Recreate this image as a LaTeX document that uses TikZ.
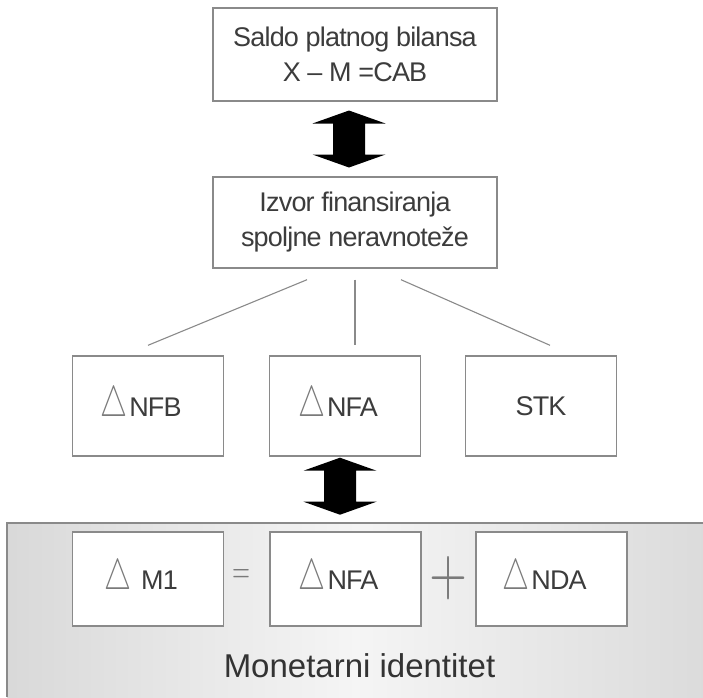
\documentclass[tikz,border=0pt]{standalone}
\usepackage{graphicx}
\usepackage{fontspec}
\setmainfont{Liberation Sans}[LetterSpace=-3]
\newfontfamily\bigfont{Liberation Sans}
\usepackage{tikz}
\usetikzlibrary{calc}
\definecolor{edge}{HTML}{8A8A8A}
\definecolor{ink}{HTML}{3C3C3C}
\definecolor{tri}{HTML}{7A7A7A}
\newcommand{\dlt}{\textcolor{tri}{\resizebox{27pt}{30pt}{$\triangle$}}\hspace{2pt}}
\newcommand{\blockarrow}[1]{\fill[black] (#1) ++(0,-28.5) -- ++(36.5,13) -- ++(-20.5,0) -- ++(0,31) -- ++(20.5,0) -- ++(-36.5,13) -- ++(-36.5,-13) -- ++(20.5,0) -- ++(0,-31) -- ++(-20.5,0) -- cycle;}
\begin{document}
\begin{tikzpicture}[x=1pt, y=-1pt,
  box/.style={draw=edge,line width=1.4pt,fill=white,text=ink,minimum width=151pt,align=center,font=\fontsize{27}{35}\selectfont},
  link/.style={edge,line width=1.1pt}]
          \useasboundingbox (0,0) rectangle (703,697);
          \shade[left color=black!15,right color=black!14,middle color=black!4] (7,523) rectangle (703,697);
          \draw[edge,line width=1.4pt] (7,697) -- (7,523) -- (703,523);
          \node[box,minimum width=284pt,minimum height=93pt] (S) at (355,54.5) {Saldo platnog bilansa\\X -- M =CAB};
          \node[box,minimum width=284pt,minimum height=91pt] (I) at (355,222.5) {Izvor finansiranja\\spoljne neravnoteže};
          \node[box,minimum height=100pt] (B) at (148,406) {\dlt NFB\hspace{14pt}};
          \node[box,minimum height=100pt] (A) at (345,406) {\dlt NFA\hspace{14pt}};
          \node[box,minimum height=100pt] (K) at (541,406) {STK};
          \node[box,minimum height=94pt] (M) at (148,579) {\dlt\hspace{8pt}M1\hspace{14pt}};
          \node[box,minimum height=94pt] (F) at (345.5,579) {\dlt NFA\hspace{14pt}};
          \node[box,minimum height=94pt] (D) at (551.5,579) {\dlt NDA\hspace{14pt}};
          \node[text=tri,inner sep=0pt] (eq) at (241,576) {\resizebox{18pt}{13pt}{$=$}};
          \node[text=tri,inner sep=0pt] (pl) at (448,578) {\resizebox{38pt}{38pt}{$+$}};
          \node[text=black!80,font=\bigfont\fontsize{33}{36}\selectfont] (T) at (359.5,665.5) {Monetarni identitet};
          \draw[link] ([xshift=-48pt,yshift=-11pt]I.south) -- ([yshift=10pt]B.north);
          \draw[link] ([yshift=-11pt]I.south) -- ([xshift=10pt,yshift=10pt]A.north);
          \draw[link] ([xshift=46pt,yshift=-11pt]I.south) -- ([xshift=9pt,yshift=10pt]K.north);
          \blockarrow{$(S.south)!0.5!(I.north)+(-6,0)$}
          \blockarrow{$(A.south)+(-5,29.5)$}
        \end{tikzpicture}
\end{document}
